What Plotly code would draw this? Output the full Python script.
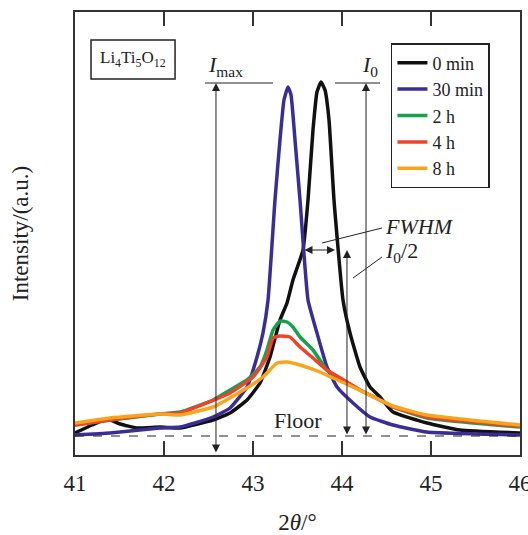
import plotly.graph_objects as go

# ---- data ----
x_0min = [41.000, 41.191, 41.360, 41.506, 41.697, 41.955, 42.180, 42.551, 42.742, 42.933, 43.079,
          43.191, 43.303, 43.382, 43.449, 43.562, 43.618, 43.674, 43.719, 43.764, 43.809, 43.854,
          43.910, 44.011, 44.090, 44.202, 44.315, 44.427, 44.573, 44.955, 45.326, 46.000]
y_0min = [3, 11, 17, 12, 8, 9, 8, 16, 23, 36, 53, 79, 116, 133, 156, 186, 236, 306, 344, 354,
          346, 316, 236, 136, 103, 69, 49, 39, 24, 13, 6, 3]

x_30min = [41.000, 41.393, 41.955, 42.180, 42.551, 42.742, 42.933, 43.045, 43.112, 43.169, 43.247,
           43.303, 43.348, 43.393, 43.427, 43.472, 43.528, 43.618, 43.719, 43.831, 43.944, 44.124,
           44.315, 44.573, 44.955, 46.000]
y_30min = [1, 3, 8, 9, 19, 28, 49, 79, 103, 136, 236, 296, 336, 349, 341, 296, 236, 136, 103, 69,
           49, 33, 19, 11, 4, 1]

x_2h = [41.000, 41.393, 41.955, 42.180, 42.551, 42.742, 42.933, 43.079, 43.157, 43.225, 43.303,
        43.382, 43.449, 43.528, 43.674, 43.831, 43.978, 44.202, 44.427, 44.573, 44.955, 46.000]
y_2h = [11, 16, 22, 24, 36, 46, 56, 69, 86, 106, 115, 114, 109, 99, 86, 66, 56, 46, 36, 29, 18, 9]

x_4h = [41.000, 41.393, 41.955, 42.180, 42.742, 43.000, 43.157, 43.225, 43.303, 43.416, 43.528,
        43.674, 43.831, 44.056, 44.202, 44.427, 44.573, 44.955, 46.000]
y_4h = [11, 16, 22, 23, 43, 59, 79, 98, 100, 99, 89, 78, 66, 54, 46, 36, 29, 19, 10]

x_8h = [41.000, 41.393, 41.955, 42.180, 42.551, 42.933, 43.112, 43.270, 43.382, 43.528, 43.753,
        43.899, 44.124, 44.427, 44.573, 44.955, 46.000]
y_8h = [13, 18, 22, 21, 29, 48, 59, 73, 74, 71, 64, 58, 49, 36, 30, 21, 11]

series_names = ["0 min", "30 min", "2 h", "4 h", "8 h"]
series_colors = ["#111111", "#3a2e96", "#17a04e", "#ee4328", "#f8a51d"]
xs = [x_0min, x_30min, x_2h, x_4h, x_8h]
ys = [y_0min, y_30min, y_2h, y_4h, y_8h]

tick_vals = [41, 42, 43, 44, 45, 46]

FONT = "Liberation Serif"
INK = "#222222"

fig = go.Figure()
for name, col, x, y in zip(series_names, series_colors, xs, ys):
    fig.add_trace(go.Scatter(x=x, y=y, mode="lines", name=name,
                             line=dict(color=col, width=3.5, shape="spline", smoothing=0.4)))

# floor dashed line
fig.add_shape(type="line", x0=41, x1=46, y0=0, y1=0, xref="x", yref="y",
              line=dict(color=INK, width=1, dash="dash"))
# Li4Ti5O12 box
fig.add_shape(type="rect", x0=41.18, x1=42.124, y0=357, y1=396, xref="x", yref="y",
              line=dict(color=INK, width=1.5))
# reference horizontal lines
fig.add_shape(type="line", x0=42.461, x1=43.225, y0=353, y1=353, line=dict(color=INK, width=1))
fig.add_shape(type="line", x0=43.921, x1=44.427, y0=353, y1=353, line=dict(color=INK, width=1))
# leader lines
fig.add_shape(type="line", x0=43.775, x1=44.449, y0=193, y1=208, line=dict(color=INK, width=1))
fig.add_shape(type="line", x0=44.124, x1=44.449, y0=158, y1=179, line=dict(color=INK, width=1))

def arrow(x0, y0, x1, y1, both=True):
    fig.add_annotation(x=x1, y=y1, ax=x0, ay=y0, xref="x", yref="y", axref="x", ayref="y",
                       text="", showarrow=True, arrowhead=2, arrowsize=1.6, arrowwidth=1,
                       arrowcolor=INK, arrowside="end+start" if both else "end")

arrow(42.584, -18, 42.584, 353)   # I_max
arrow(44.270, 0, 44.270, 353)     # I_0
arrow(44.056, 0, 44.056, 186)     # I_0/2
arrow(43.562, 186, 43.921, 186)   # FWHM

def label(x, y, text, size=22):
    fig.add_annotation(x=x, y=y, xref="x", yref="y", text=text, showarrow=False,
                       font=dict(family=FONT, size=size, color=INK))

label(41.652, 377, "Li<sub>4</sub>Ti<sub>5</sub>O<sub>12</sub>", 17)
label(42.69, 370, "<i>I</i><sub>max</sub>")
label(44.31, 370, "<i>I</i><sub>0</sub>")
label(44.876, 210, "<i>FWHM</i>")
label(44.663, 184, "<i>I</i><sub>0</sub>/2")
label(43.506, 16, "Floor")

fig.update_layout(
    width=528, height=535,
    margin=dict(l=75, r=8, t=12, b=80, autoexpand=False),
    paper_bgcolor="white", plot_bgcolor="white",
    font=dict(family=FONT, size=20, color=INK),
    showlegend=True,
    legend=dict(x=0.71, y=0.93, xanchor="left", yanchor="top",
                bordercolor=INK, borderwidth=1.5, bgcolor="white",
                font=dict(family=FONT, size=18, color=INK),
                itemwidth=30, tracegroupgap=0),
    xaxis=dict(range=[41, 46], tickvals=tick_vals, ticks="inside", ticklen=14, tickwidth=2,
               tickcolor="#333333", showline=True, linecolor="#333333", linewidth=2,
               mirror="ticks", showgrid=False, zeroline=False, ticklabelstandoff=6,
               ticklabeloverflow="allow", automargin=False,
               tickfont=dict(family=FONT, size=23, color=INK),
               title=dict(text="2<i>θ</i>/°", font=dict(family=FONT, size=23, color=INK), standoff=22)),
    yaxis=dict(range=[-19, 424], showticklabels=False, ticks="", showline=True, automargin=False,
               linecolor="#333333", linewidth=2, mirror=True, showgrid=False, zeroline=False,
               title=dict(text="Intensity/(a.u.)", font=dict(family=FONT, size=23, color=INK),
                          standoff=38)),
)

fig.write_html("out.html")
